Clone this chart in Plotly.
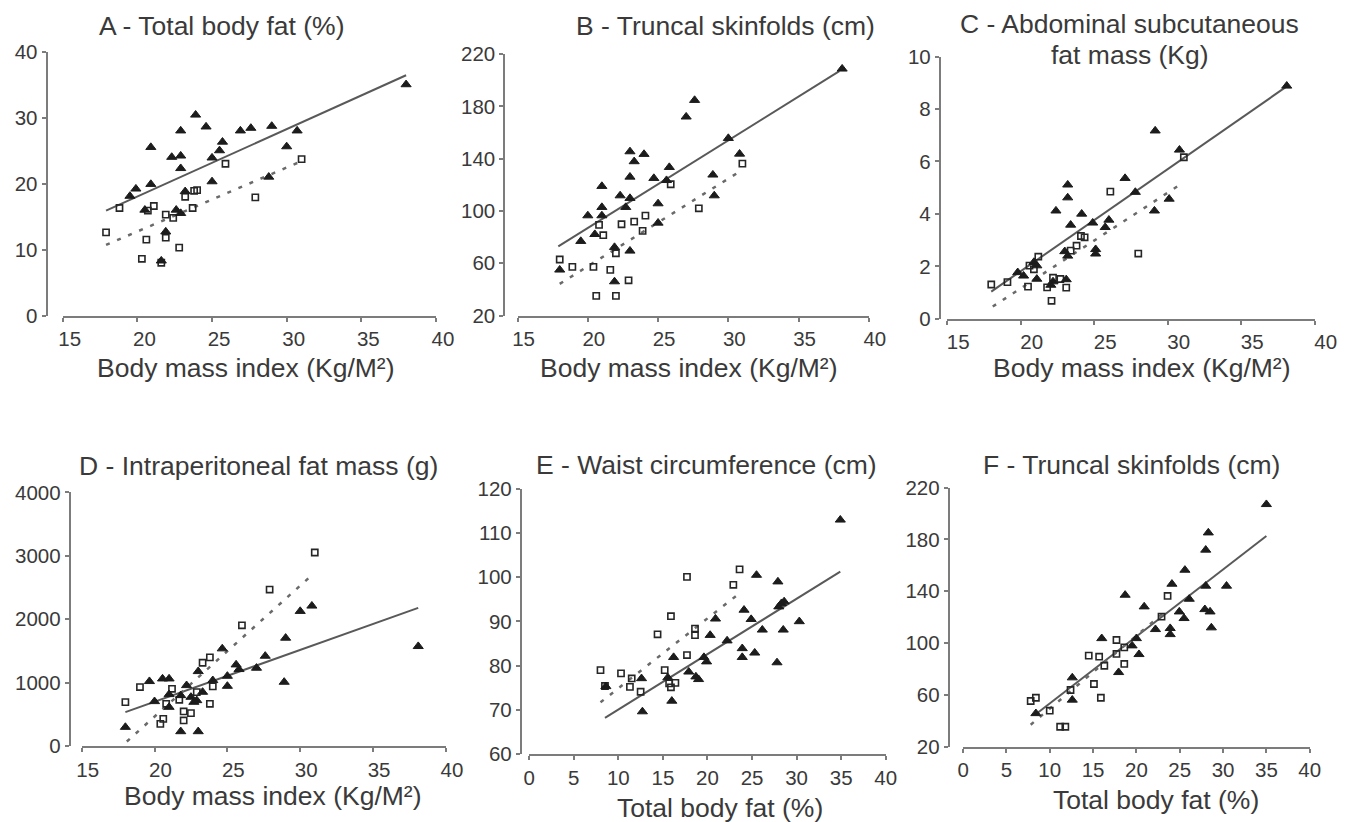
import plotly.graph_objects as go

# Figure size (figure pixels) and the measured mapping from figure pixels to the
# photographed picture (picture = S * figure + O).  Geometry below is written in
# picture pixels and converted.
W, H = 1349, 830
SX, OX = 0.984, 9.0
SY, OY = 0.972, 18.5

# ---------------- data ----------------
# A - Total body fat (%) vs BMI
A_tri_x = [19.5, 19.9, 20.9, 20.9, 22.3, 22.9, 22.9, 22.9, 23.9, 24.6, 25.0, 25.0, 25.5, 25.7, 26.9, 27.6, 29.0, 30.0, 30.7, 28.8, 38.0, 21.9, 22.6, 22.9, 23.2, 21.6, 20.5]
A_tri_y = [18.1, 19.2, 25.5, 19.9, 24.0, 28.0, 24.2, 22.3, 30.4, 28.6, 23.9, 20.3, 25.0, 26.3, 28.0, 28.4, 28.7, 25.6, 28.0, 21.0, 35.0, 12.7, 16.0, 15.5, 18.8, 8.3, 16.0]
A_sq_x = [17.9, 18.8, 20.3, 20.6, 20.7, 21.1, 21.9, 21.9, 21.6, 22.4, 22.8, 23.2, 23.7, 23.8, 24.0, 25.9, 27.9, 31.0]
A_sq_y = [12.6, 16.3, 8.6, 11.5, 15.9, 16.6, 15.3, 11.8, 8.0, 14.8, 10.3, 18.0, 16.3, 18.9, 19.0, 23.0, 17.9, 23.7]
A_fit_tri_x = [17.9, 38.0]
A_fit_tri_y = [15.9, 36.4]
A_fit_sq_x = [17.9, 30.9]
A_fit_sq_y = [10.7, 23.3]

# B - Truncal skinfolds (cm) vs BMI
B_tri_x = [38.1, 27.6, 27.0, 30.0, 30.8, 23.0, 24.0, 23.3, 25.8, 23.0, 24.7, 25.6, 28.9, 29.0, 21.0, 22.3, 23.0, 21.0, 22.7, 25.0, 20.0, 21.0, 25.0, 20.5, 19.5, 21.9, 23.0, 18.0, 21.9]
B_tri_y = [208.8, 184.8, 172.1, 155.7, 143.7, 145.5, 143.5, 137.9, 133.5, 126.1, 125.1, 123.5, 127.7, 111.8, 119.0, 111.8, 109.8, 102.9, 102.9, 105.7, 96.5, 96.5, 90.9, 82.2, 76.9, 72.3, 69.5, 55.0, 46.0]
B_sq_x = [18.0, 18.9, 20.4, 21.6, 22.9, 20.6, 22.0, 22.0, 21.1, 20.8, 22.4, 23.3, 24.1, 23.9, 25.9, 27.9, 31.0]
B_sq_y = [62.9, 57.3, 57.3, 55.0, 47.0, 35.1, 35.1, 67.7, 81.5, 89.4, 89.9, 91.9, 96.5, 84.8, 120.5, 102.1, 136.3]
B_fit_tri_x = [17.9, 37.9]
B_fit_tri_y = [73.0, 207.0]
B_fit_sq_x = [18.0, 31.0]
B_fit_sq_y = [44.3, 131.5]

# C - Abdominal subcutaneous fat mass (Kg) vs BMI
C_tri_x = [38.1, 29.15, 30.8, 27.1, 23.2, 23.2, 27.8, 30.1, 29.1, 22.4, 24.15, 24.9, 23.4, 26.0, 25.75, 25.1, 25.1, 23.0, 23.2, 20.9, 21.1, 19.8, 20.2, 21.1, 23.1, 22.2, 22.05]
C_tri_y = [8.88, 7.17, 6.44, 5.36, 5.11, 4.62, 4.83, 4.57, 4.12, 4.12, 4.00, 3.66, 3.58, 3.77, 3.49, 2.65, 2.48, 2.57, 2.40, 2.16, 2.03, 1.77, 1.64, 1.52, 1.50, 1.42, 1.29]
C_sq_x = [18.0, 19.1, 20.5, 20.6, 20.9, 21.2, 21.8, 22.1, 22.2, 22.7, 23.1, 23.4, 23.8, 24.1, 24.35, 26.1, 28.0, 31.1]
C_sq_y = [1.31, 1.40, 1.23, 2.03, 1.89, 2.37, 1.20, 0.69, 1.57, 1.52, 1.19, 2.60, 2.79, 3.16, 3.11, 4.85, 2.49, 6.16]
C_fit_tri_x = [18.0, 38.1]
C_fit_tri_y = [1.04, 8.86]
C_fit_sq_x = [18.1, 31.1]
C_fit_sq_y = [0.47, 5.21]

# D - Intraperitoneal fat mass (g) vs BMI
D_tri_x = [30.8, 30.0, 29.0, 28.9, 27.6, 27.0, 25.6, 25.8, 24.65, 25.0, 25.0, 24.0, 23.0, 23.3, 22.7, 22.9, 22.2, 21.8, 21.0, 20.55, 19.65, 20.0, 21.0, 21.0, 21.8, 23.0, 18.0, 38.1, 22.5]
D_tri_y = [2211, 2127, 1705, 1011, 1421, 1232, 1284, 1211, 1537, 1105, 947, 1037, 1179, 853, 695, 721, 958, 800, 1063, 1063, 1022, 706, 816, 616, 232, 232, 300, 1574, 774]
D_sq_x = [31.0, 27.9, 26.0, 23.3, 23.8, 18.0, 19.0, 21.2, 20.8, 21.7, 22.9, 24.0, 23.8, 22.0, 22.5, 20.6, 20.4, 22.0]
D_sq_y = [3052, 2468, 1905, 1315, 1400, 695, 932, 905, 668, 731, 853, 943, 668, 548, 521, 431, 352, 406]
D_fit_tri_x = [18.0, 38.1]
D_fit_tri_y = [537, 2179]
D_fit_sq_x = [18.1, 30.8]
D_fit_sq_y = [74, 2695]

# E - Waist circumference (cm) vs total body fat
E_tri_x = [34.9, 25.5, 27.9, 28.3, 28.6, 28.0, 30.3, 24.1, 24.9, 20.9, 26.15, 28.5, 20.3, 22.2, 23.9, 23.9, 25.3, 27.8, 16.2, 19.6, 19.9, 17.9, 18.7, 19.0, 12.6, 15.55, 16.0, 12.7, 8.6]
E_tri_y = [113.0, 100.5, 99.0, 94.1, 94.5, 93.35, 90.0, 92.6, 90.5, 90.6, 88.1, 88.1, 86.9, 85.65, 83.9, 81.9, 82.9, 80.7, 81.9, 81.9, 80.9, 78.6, 77.5, 76.9, 77.1, 77.3, 72.0, 69.6, 75.3]
E_sq_x = [23.6, 17.7, 22.9, 15.9, 14.4, 18.6, 18.6, 17.7, 8.0, 10.3, 11.5, 11.3, 8.5, 12.5, 15.2, 15.7, 16.4, 15.9]
E_sq_y = [101.8, 100.1, 98.3, 91.2, 87.1, 88.4, 86.9, 82.4, 79.0, 78.25, 77.1, 75.2, 75.4, 74.1, 79.0, 76.0, 76.1, 75.1]
E_fit_tri_x = [8.5, 34.9]
E_fit_tri_y = [68.2, 101.3]
E_fit_sq_x = [8.0, 23.6]
E_fit_sq_y = [71.7, 96.4]

# F - Truncal skinfolds (cm) vs total body fat
F_tri_x = [35.0, 28.3, 28.0, 25.6, 24.1, 28.0, 30.4, 18.7, 26.1, 20.9, 24.95, 25.5, 27.9, 28.5, 28.65, 22.2, 23.9, 23.9, 20.0, 19.5, 16.0, 20.3, 17.95, 12.6, 12.6, 8.4]
F_tri_y = [207.1, 185.2, 171.9, 156.4, 145.6, 144.1, 144.1, 137.1, 134.0, 128.1, 124.2, 119.1, 126.0, 124.2, 111.9, 110.6, 111.4, 106.7, 103.6, 98.0, 103.6, 91.3, 77.4, 73.3, 56.1, 45.7]
F_sq_x = [23.6, 22.9, 17.7, 18.6, 17.7, 15.7, 14.5, 16.3, 18.6, 15.1, 12.4, 15.9, 10.0, 7.8, 8.4, 11.2, 11.8]
F_sq_y = [136.4, 120.4, 102.4, 96.7, 91.6, 89.5, 90.3, 82.5, 83.9, 68.4, 63.8, 57.8, 47.8, 55.3, 57.8, 35.4, 35.4]
F_fit_tri_x = [8.5, 35.0]
F_fit_tri_y = [45.7, 182.7]
F_fit_sq_x = [7.8, 23.6]
F_fit_sq_y = [37.0, 126.0]

# tick values / labels
bmi_ticks = [15, 20, 25, 30, 35, 40]
fat_ticks = [0, 5, 10, 15, 20, 25, 30, 35, 40]
A_yticks = [0, 10, 20, 30, 40]
B_yticks = [20, 60, 100, 140, 180, 220]
C_yticks = [0, 2, 4, 6, 8, 10]
D_yticks = [0, 1000, 2000, 3000, 4000]
E_yticks = [60, 70, 80, 90, 100, 110, 120]
F_yticks = [20, 60, 100, 140, 180, 220]

titles = ["A - Total body fat (%)", "B - Truncal skinfolds (cm)",
          "C - Abdominal subcutaneous", "D - Intraperitoneal fat mass (g)",
          "E - Waist circumference (cm)", "F - Truncal skinfolds (cm)"]
C_title_line2 = "fat mass (Kg)"
bmi_title = "Body mass index (Kg/M²)"
fat_title = "Total body fat (%)"

# ---------------- layout geometry (picture pixels) ----------------
panels = [
    dict(tx=A_tri_x, ty=A_tri_y, sx=A_sq_x, sy=A_sq_y, ftx=A_fit_tri_x, fty=A_fit_tri_y, fsx=A_fit_sq_x, fsy=A_fit_sq_y,
         yax=41.7, x0=58, x1=433, ytop=50, ybot=314, xticks=bmi_ticks, yticks=A_yticks, shift=7,
         title=titles[0], tpos=(218, 24), xt=bmi_title, xtpos=(242, 366)),
    dict(tx=B_tri_x, ty=B_tri_y, sx=B_sq_x, sy=B_sq_y, ftx=B_fit_tri_x, fty=B_fit_tri_y, fsx=B_fit_sq_x, fsy=B_fit_sq_y,
         yax=501.7, x0=515, x1=868, ytop=52.7, ybot=314, xticks=bmi_ticks, yticks=B_yticks, shift=6,
         title=titles[1], tpos=(724, 24), xt=bmi_title, xtpos=(687, 366)),
    dict(tx=C_tri_x, ty=C_tri_y, sx=C_sq_x, sy=C_sq_y, ftx=C_fit_tri_x, fty=C_fit_tri_y, fsx=C_fit_sq_x, fsy=C_fit_sq_y,
         yax=939.3, x0=946.7, x1=1316, ytop=55, ybot=317.3, xticks=bmi_ticks, yticks=C_yticks, shift=11,
         title=titles[2], tpos=(1130, 22), xt=bmi_title, xtpos=(1142, 366)),
    dict(tx=D_tri_x, ty=D_tri_y, sx=D_sq_x, sy=D_sq_y, ftx=D_fit_tri_x, fty=D_fit_tri_y, fsx=D_fit_sq_x, fsy=D_fit_sq_y,
         yax=65, x0=77, x1=443, ytop=490.7, ybot=744.5, xticks=bmi_ticks, yticks=D_yticks, shift=6,
         title=titles[3], tpos=(255, 464), xt=bmi_title, xtpos=(269, 794)),
    dict(tx=E_tri_x, ty=E_tri_y, sx=E_sq_x, sy=E_sq_y, ftx=E_fit_tri_x, fty=E_fit_tri_y, fsx=E_fit_sq_x, fsy=E_fit_sq_y,
         yax=518.3, x0=526.7, x1=885, ytop=487.3, ybot=752.3, xticks=fat_ticks, yticks=E_yticks, shift=0,
         title=titles[4], tpos=(705, 463), xt=fat_title, xtpos=(718, 806)),
    dict(tx=F_tri_x, ty=F_tri_y, sx=F_sq_x, sy=F_sq_y, ftx=F_fit_tri_x, fty=F_fit_tri_y, fsx=F_fit_sq_x, fsy=F_fit_sq_y,
         yax=948.3, x0=962.7, x1=1311, ytop=486, ybot=745, xticks=fat_ticks, yticks=F_yticks, shift=0,
         title=titles[5], tpos=(1132, 463), xt=fat_title, xtpos=(1157, 798)),
]

FONT = "Liberation Sans, Arial, sans-serif"
TXT = "#3a3a3a"
AX = "#7c7c7c"


def fx(px):
    return ((px - OX) / SX) / W


def fy(py):
    return 1 - ((py - OY) / SY) / H


fig = go.Figure()
layout = dict(width=W, height=H, margin=dict(l=0, r=0, t=0, b=0),
              paper_bgcolor="white", plot_bgcolor="white", showlegend=False,
              font=dict(family=FONT, color=TXT))
annotations = []


def label(text, pos, size):
    return dict(text=text, x=fx(pos[0]), y=fy(pos[1]), xref="paper", yref="paper",
                xanchor="center", yanchor="middle", showarrow=False, borderpad=0,
                font=dict(size=size, color=TXT, family=FONT))


for i, p in enumerate(panels, start=1):
    xa, ya = f"x{i}", f"y{i}"
    fig.add_trace(go.Scatter(x=p["ftx"], y=p["fty"], mode="lines", xaxis=xa, yaxis=ya,
                             line=dict(color="#595959", width=2), hoverinfo="skip"))
    fig.add_trace(go.Scatter(x=p["fsx"], y=p["fsy"], mode="lines", xaxis=xa, yaxis=ya,
                             line=dict(color="#6a6a6a", width=2.5, dash="4px,8px"), hoverinfo="skip"))
    fig.add_trace(go.Scatter(x=p["sx"], y=p["sy"], mode="markers", xaxis=xa, yaxis=ya, cliponaxis=False,
                             marker=dict(symbol="square-open", size=6.2, color="#262626",
                                         line=dict(width=1.6, color="#262626"))))
    fig.add_trace(go.Scatter(x=p["tx"], y=p["ty"], mode="markers", xaxis=xa, yaxis=ya, cliponaxis=False,
                             marker=dict(symbol="triangle-up", size=8.8, color="#1c1c1c",
                                         line=dict(width=1, color="#1c1c1c"))))
    xt, yt = p["xticks"], p["yticks"]
    layout[f"xaxis{i}"] = dict(domain=[fx(p["x0"]), fx(p["x1"])], range=[xt[0], xt[-1]], anchor=ya,
                               tickvals=xt, ticktext=[str(v) for v in xt], ticks="outside", ticklen=4,
                               tickwidth=2, tickcolor=AX, showline=True, linecolor=AX, linewidth=2,
                               showgrid=False, zeroline=False, ticklabelshift=p["shift"],
                               tickfont=dict(size=20.5, color=TXT, family=FONT))
    layout[f"yaxis{i}"] = dict(domain=[fy(p["ybot"]), fy(p["ytop"])], range=[yt[0], yt[-1]], anchor="free",
                               position=fx(p["yax"]), tickvals=yt, ticktext=[str(v) for v in yt],
                               ticks="outside", ticklen=4, tickwidth=2, tickcolor=AX, showline=True,
                               linecolor=AX, linewidth=2, showgrid=False, zeroline=False,
                               tickfont=dict(size=20.5, color=TXT, family=FONT))
    annotations.append(label(p["title"], p["tpos"], 26.5))
    annotations.append(label(p["xt"], p["xtpos"], 26.5))

annotations.append(label(C_title_line2, (1130, 53), 26.5))
layout["annotations"] = annotations
fig.update_layout(**layout)
fig.write_html("out.html")
